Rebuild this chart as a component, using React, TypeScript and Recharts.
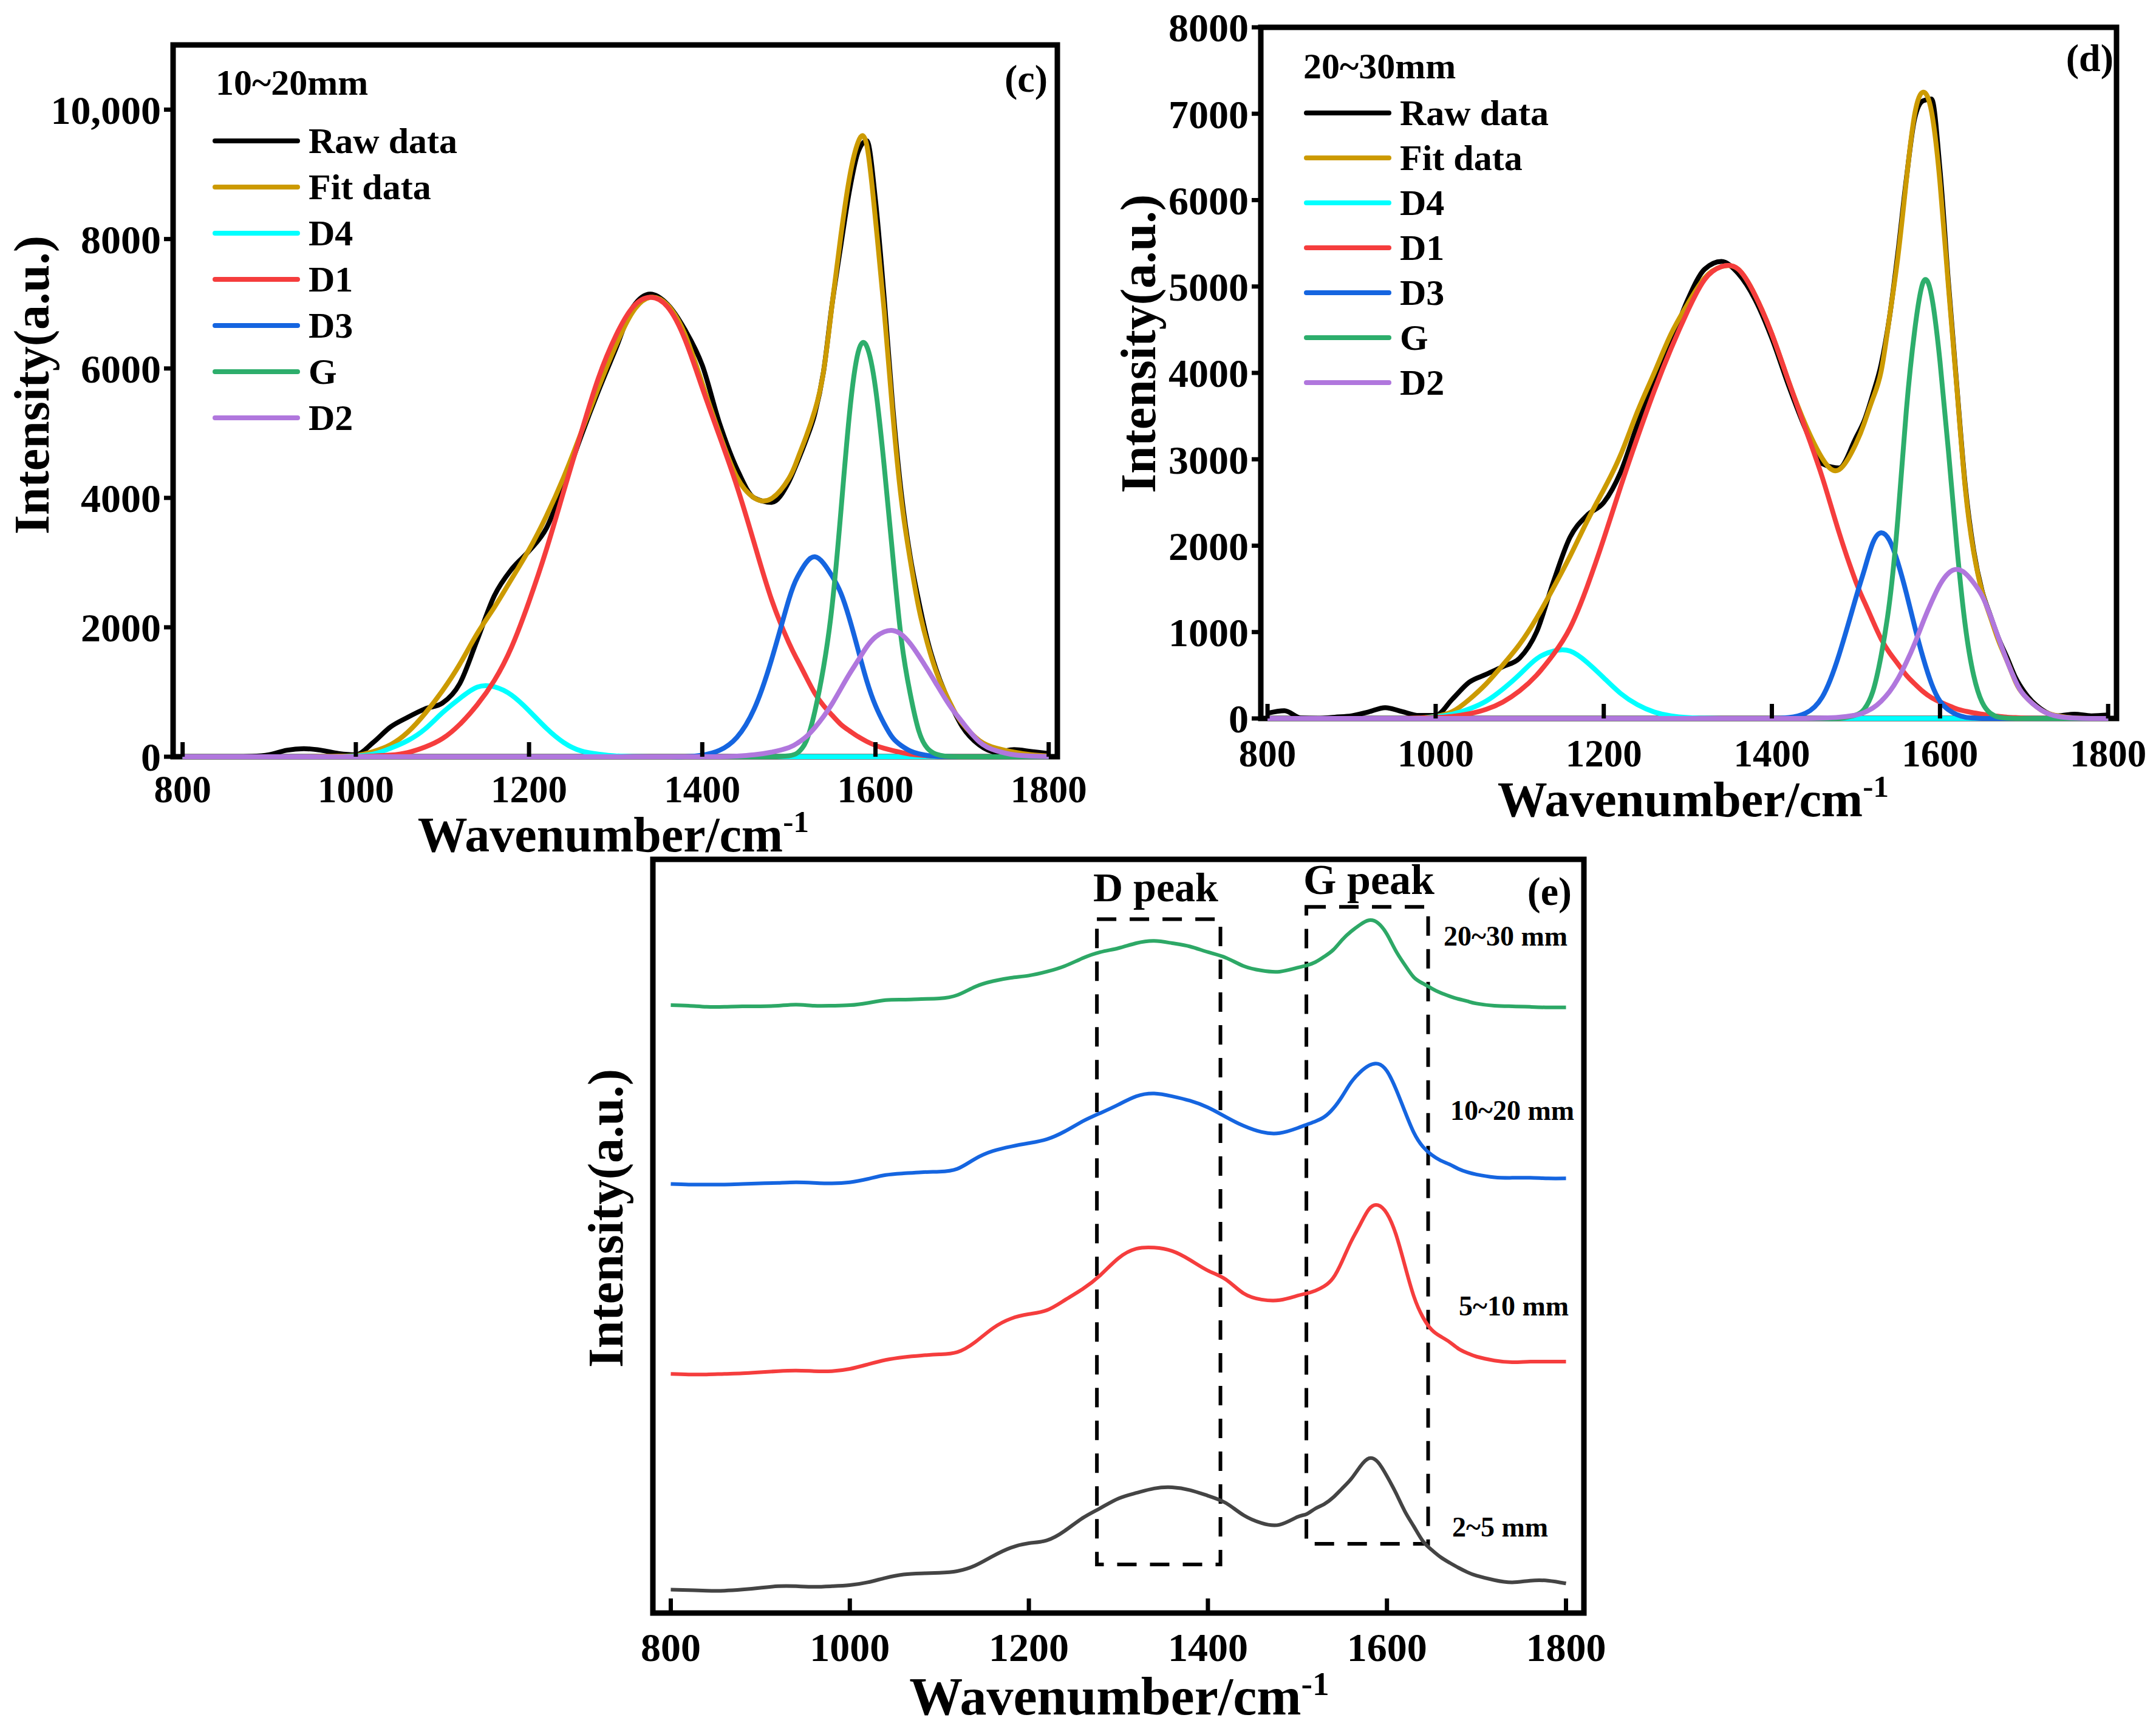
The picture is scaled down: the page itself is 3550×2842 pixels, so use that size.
import {
  LineChart,
  Line,
  XAxis,
  YAxis,
  Legend,
  ReferenceArea,
} from "recharts";

const SERIF = "'Liberation Serif'";

// wavenumber grid, cm-1 (finer around the G band)
const wavenumbers = [
  800, 820, 840, 860, 880, 900, 920, 940, 960, 980, 1000, 1020, 1040, 1060, 1080, 1100, 1120, 1140,
  1160, 1180, 1200, 1220, 1240, 1260, 1280, 1300, 1320, 1340, 1360, 1380, 1400, 1420, 1440, 1460,
  1480, 1500, 1510, 1520, 1530, 1540, 1550, 1560, 1570, 1580, 1590, 1600, 1610, 1620, 1630, 1640,
  1650, 1660, 1670, 1680, 1690, 1700, 1720, 1740, 1760, 1780, 1800,
];

const xTicks = [800, 1000, 1200, 1400, 1600, 1800];
const yTicksC = [0, 2000, 4000, 6000, 8000, 10000];
const yTicksD = [0, 1000, 2000, 3000, 4000, 5000, 6000, 7000, 8000];

// panel (c) 10~20mm
const rawC = [
  0, 0, 0, 0, 5, 30, 100, 125, 100, 50, 30, 220, 460, 610, 740, 830, 1130, 1800, 2490, 2900, 3180,
  3530, 4200, 4950, 5650, 6300, 6950, 7150, 6990, 6600, 6050, 5150, 4450, 4000, 3930, 4250, 4560,
  4900, 5300, 5950, 7000, 7900, 8750, 9350, 9520, 8600, 7100, 5400, 4050, 3100, 2400, 1800, 1350,
  1000, 720, 470, 180, 70, 110, 80, 50,
];
const fitC = [
  0, 0, 0, 0, 0, 0, 0, 0, 5, 10, 20, 80, 185, 380, 670, 1020, 1430, 1900, 2310, 2750, 3200, 3720,
  4320, 5000, 5700, 6350, 6880, 7100, 6980, 6530, 5770, 4990, 4320, 4000, 3990, 4300, 4600, 4950,
  5350, 5950, 7000, 8050, 8950, 9500, 9450, 8300, 6900, 5300, 3960, 3050, 2300, 1750, 1320, 1000,
  730, 520, 250, 130, 70, 30, 10,
];
const d4C = [
  0, 0, 0, 0, 0, 0, 0, 0, 0, 0, 10, 40, 130, 250, 430, 680, 900, 1075, 1080, 950, 710, 440, 220, 90,
  40, 12, 3, 0, 0, 0, 0, 0, 0, 0, 0, 0, 0, 0, 0, 0, 0, 0, 0, 0, 0, 0, 0, 0, 0, 0, 0, 0, 0, 0, 0, 0,
  0, 0, 0, 0, 0,
];
const d1C = [
  0, 0, 0, 0, 0, 0, 0, 0, 0, 0, 0, 10, 25, 65, 150, 280, 500, 800, 1180, 1700, 2400, 3200, 4100,
  5000, 5850, 6500, 6950, 7100, 6950, 6450, 5700, 4950, 4180, 3300, 2430, 1760, 1490, 1230, 980,
  790, 640, 500, 400, 310, 235, 175, 130, 95, 65, 40, 25, 15, 8, 3, 0, 0, 0, 0, 0, 0, 0,
];
const d3C = [
  0, 0, 0, 0, 0, 0, 0, 0, 0, 0, 0, 0, 0, 0, 0, 0, 0, 0, 0, 0, 0, 0, 0, 0, 0, 0, 0, 0, 0, 0, 25, 100,
  300, 740, 1500, 2430, 2780, 3000, 3090, 2990, 2790, 2530, 2130, 1650, 1170, 790, 510, 290, 170,
  90, 45, 20, 8, 3, 0, 0, 0, 0, 0, 0, 0,
];
const gC = [
  0, 0, 0, 0, 0, 0, 0, 0, 0, 0, 0, 0, 0, 0, 0, 0, 0, 0, 0, 0, 0, 0, 0, 0, 0, 0, 0, 0, 0, 0, 0, 0, 0,
  0, 0, 15, 60, 240, 700, 1380, 2340, 3780, 5300, 6250, 6340, 5700, 4500, 3100, 1800, 980, 400, 130,
  40, 10, 3, 0, 0, 0, 0, 0, 0,
];
const d2C = [
  0, 0, 0, 0, 0, 0, 0, 0, 0, 0, 0, 0, 0, 0, 0, 0, 0, 0, 0, 0, 0, 0, 0, 0, 0, 0, 0, 0, 0, 0, 0, 0, 10,
  30, 70, 140, 210, 310, 450, 620, 820, 1050, 1280, 1490, 1700, 1850, 1930, 1950, 1890, 1750, 1560,
  1350, 1130, 910, 710, 540, 230, 90, 30, 10, 3,
];

// panel (d) 20~30mm
const rawD = [
  60, 90, 5, 0, 15, 30, 75, 125, 80, 35, 35, 225, 420, 510, 600, 700, 1000, 1580, 2100, 2350, 2500,
  2850, 3400, 3900, 4350, 4850, 5200, 5290, 5150, 4850, 4400, 3850, 3350, 2950, 2900, 3250, 3450,
  3750, 4100, 4650, 5400, 6250, 6950, 7150, 7170, 6350, 5050, 3850, 2700, 1950, 1480, 1190, 920,
  700, 470, 310, 110, 30, 50, 30, 40,
];
const fitD = [
  0, 0, 0, 0, 0, 0, 0, 0, 0, 5, 25, 80, 220, 400, 620, 860, 1160, 1510, 1880, 2280, 2650, 3050, 3550,
  4000, 4450, 4800, 5100, 5230, 5200, 4900, 4450, 3900, 3400, 3010, 2880, 3180, 3420, 3700, 4020,
  4650, 5350, 6230, 7000, 7250, 7020, 6200, 5000, 3830, 2670, 1930, 1470, 1170, 890, 660, 420, 270,
  100, 30, 5, 0, 0,
];
const d4D = [
  0, 0, 0, 0, 0, 0, 0, 0, 0, 3, 20, 50, 110, 200, 340, 510, 690, 780, 780, 650, 470, 290, 160, 75,
  30, 10, 3, 0, 0, 0, 0, 0, 0, 0, 0, 0, 0, 0, 0, 0, 0, 0, 0, 0, 0, 0, 0, 0, 0, 0, 0, 0, 0, 0, 0, 0,
  0, 0, 0, 0, 0,
];
const d1D = [
  0, 0, 0, 0, 0, 0, 0, 0, 0, 5, 10, 25, 55, 105, 190, 320, 500, 740, 1050, 1520, 2080, 2680, 3250,
  3790, 4280, 4720, 5080, 5230, 5200, 4900, 4450, 3900, 3350, 2790, 2150, 1580, 1350, 1130, 920, 760,
  630, 500, 400, 310, 240, 190, 150, 110, 85, 65, 50, 35, 25, 15, 10, 5, 2, 0, 0, 0, 0,
];
const d3D = [
  0, 0, 0, 0, 0, 0, 0, 0, 0, 0, 0, 0, 0, 0, 0, 0, 0, 0, 0, 0, 0, 0, 0, 0, 0, 0, 0, 0, 0, 0, 0, 10, 60,
  250, 740, 1400, 1720, 2030, 2150, 2060, 1800, 1450, 1060, 700, 400, 200, 100, 45, 15, 5, 0, 0, 0,
  0, 0, 0, 0, 0, 0, 0, 0,
];
const gD = [
  0, 0, 0, 0, 0, 0, 0, 0, 0, 0, 0, 0, 0, 0, 0, 0, 0, 0, 0, 0, 0, 0, 0, 0, 0, 0, 0, 0, 0, 0, 0, 0, 0,
  0, 0, 40, 110, 310, 730, 1350, 2330, 3570, 4500, 5050, 4890, 4130, 3100, 2000, 1080, 500, 190, 60,
  15, 3, 0, 0, 0, 0, 0, 0, 0,
];
const d2D = [
  0, 0, 0, 0, 0, 0, 0, 0, 0, 0, 0, 0, 0, 0, 0, 0, 0, 0, 0, 0, 0, 0, 0, 0, 0, 0, 0, 0, 0, 0, 0, 0, 0,
  5, 15, 40, 70, 120, 200, 310, 460, 650, 870, 1120, 1350, 1550, 1680, 1725, 1680, 1570, 1420, 1190,
  920, 660, 430, 270, 100, 25, 5, 0, 0,
];

// panel (e) stacked spectra, arbitrary units
const green2030 = [
  1088, 1087, 1085, 1085, 1086, 1086, 1087, 1089, 1087, 1087, 1088, 1092, 1097, 1098, 1099, 1100,
  1106, 1121, 1131, 1137, 1141, 1148, 1158, 1172, 1183, 1190, 1199, 1203, 1199, 1193, 1183, 1173,
  1158, 1150, 1148, 1155, 1159, 1165, 1175, 1187, 1205, 1220, 1232, 1240, 1235, 1215, 1185, 1160,
  1138, 1127, 1118, 1110, 1104, 1099, 1095, 1091, 1087, 1086, 1085, 1084, 1084,
];
const blue1020 = [
  768, 767, 767, 767, 768, 769, 770, 771, 770, 769, 771, 777, 784, 787, 789, 790, 795, 813, 827, 835,
  841, 848, 862, 880, 895, 910, 925, 930, 925, 917, 905, 888, 872, 861, 859, 868, 874, 880, 888, 903,
  925, 950, 968, 980, 983, 970, 938, 898, 860, 835, 820, 810, 803, 795, 789, 785, 780, 779, 779, 778,
  778,
];
const red510 = [
  428, 427, 427, 428, 429, 431, 433, 434, 433, 433, 437, 445, 453, 458, 461, 463, 467, 485, 510, 527,
  535, 542, 560, 580, 605, 635, 652, 654, 648, 632, 613, 597, 572, 561, 560, 568, 572, 577, 585, 600,
  630, 665, 695, 723, 730, 715, 678, 622, 567, 530, 507, 495, 485, 473, 465, 459, 452, 449, 450, 450,
  450,
];
const dark25 = [
  42, 41, 40, 40, 42, 45, 48, 48, 47, 48, 50, 55, 63, 69, 71, 72, 75, 85, 102, 117, 125, 130, 147,
  170, 188, 205, 215, 223, 225, 220, 210, 197, 175, 161, 158, 172, 177, 187, 195, 207, 223, 240, 262,
  277, 270, 245, 215, 182, 155, 129, 113, 100, 90, 81, 73, 67, 59, 55, 58, 58, 53,
];

const tableC = wavenumbers.map((x, i) => ({
  x,
  raw: rawC[i],
  fit: fitC[i],
  d4: d4C[i],
  d1: d1C[i],
  d3: d3C[i],
  g: gC[i],
  d2: d2C[i],
}));
const tableD = wavenumbers.map((x, i) => ({
  x,
  raw: rawD[i],
  fit: fitD[i],
  d4: d4D[i],
  d1: d1D[i],
  d3: d3D[i],
  g: gD[i],
  d2: d2D[i],
}));
const tableE = wavenumbers.map((x, i) => ({
  x,
  a: green2030[i],
  b: blue1020[i],
  c: red510[i],
  d: dark25[i],
}));

const fitSeries = [
  { key: "raw", name: "Raw data", color: "#000000", curve: "monotone" },
  { key: "fit", name: "Fit data", color: "#CC9A00", curve: "natural" },
  { key: "d4", name: "D4", color: "#00FFFF", curve: "natural" },
  { key: "d1", name: "D1", color: "#F53D3D", curve: "natural" },
  { key: "d3", name: "D3", color: "#1565E0", curve: "natural" },
  { key: "g", name: "G", color: "#2DAE6C", curve: "natural" },
  { key: "d2", name: "D2", color: "#B077DD", curve: "natural" },
];

const tickFont = { fontFamily: SERIF, fontWeight: 700, fill: "#000" };
const bold = { fontFamily: SERIF, fontWeight: 700, fill: "#000" };

const fmtY = (v: number) => (v === 10000 ? "10,000" : String(v));

const FitLegend = ({ payload, rowH }: any) => (
  <div>
    {(payload ?? []).map((p: any) => (
      <div key={p.value} style={{ display: "flex", alignItems: "center", height: rowH }}>
        <div style={{ width: 144, height: 8, background: p.color, borderRadius: 4, marginRight: 14 }} />
        <span style={{ ...bold, color: "#000", fontSize: 60, lineHeight: 1 }}>{p.value}</span>
      </div>
    ))}
  </div>
);

const AxisTitle = ({ x, y, size = 82 }: { x: number; y: number; size?: number }) => (
  <text x={x} y={y} textAnchor="middle" fontSize={size} {...bold}>
    Wavenumber/cm
    <tspan fontSize={size * 0.63} dy={-32}>
      -1
    </tspan>
  </text>
);

const YTitle = ({ x, y }: { x: number; y: number }) => (
  <text x={x} y={y} textAnchor="middle" fontSize={82} transform={`rotate(-90 ${x} ${y})`} {...bold}>
    Intensity(a.u.)
  </text>
);

const FitPanel = ({ data, xDomain, yMax, yTicks, box, margin, label, tag, legendPos, rowH, title, ytitle, labelPos, tagPos, xLabelGap }: any) => (
  <div style={{ position: "absolute", ...box }}>
    <LineChart width={box.width} height={box.height} data={data} margin={margin}>
      <XAxis
        dataKey="x"
        type="number"
        domain={xDomain}
        ticks={xTicks}
        interval={0}
        height={100}
        axisLine={false}
        tickSize={-24}
        tickMargin={xLabelGap}
        tickLine={{ stroke: "#000", strokeWidth: 7 }}
        tick={{ ...tickFont, fontSize: 63 }}
      />
      <YAxis
        type="number"
        domain={[0, yMax]}
        ticks={yTicks}
        interval={0}
        width={100}
        axisLine={false}
        tickSize={15}
        tickMargin={5}
        tickLine={{ stroke: "#000", strokeWidth: 7 }}
        tickFormatter={fmtY}
        tick={{ ...tickFont, fontSize: 66 }}
      />
      {fitSeries.map((s) => (
        <Line
          key={s.key}
          dataKey={s.key}
          name={s.name}
          stroke={s.color}
          strokeWidth={8}
          type={s.curve as any}
          dot={false}
          isAnimationActive={false}
        />
      ))}
      <ReferenceArea x1={xDomain[0]} x2={xDomain[1]} y1={0} y2={yMax} fill="none" stroke="#000" strokeWidth={9} />
      <Legend
        layout="vertical"
        align="center"
        verticalAlign="middle"
        itemSorter={null}
        wrapperStyle={{ position: "absolute", width: "auto", height: "auto", margin: 0, ...legendPos }}
        content={(p: any) => <FitLegend payload={p.payload} rowH={rowH} />}
      />
      <text x={labelPos[0]} y={labelPos[1]} fontSize={60} {...bold}>
        {label}
      </text>
      <text x={tagPos[0]} y={tagPos[1]} fontSize={64} textAnchor="end" {...bold}>
        {tag}
      </text>
      <AxisTitle x={title[0]} y={title[1]} />
      <YTitle x={ytitle[0]} y={ytitle[1]} />
    </LineChart>
  </div>
);

const stackedSeries = [
  { key: "a", name: "20~30 mm", color: "#2DA866" },
  { key: "b", name: "10~20 mm", color: "#1565E0" },
  { key: "c", name: "5~10 mm", color: "#F53D3D" },
  { key: "d", name: "2~5 mm", color: "#444444" },
];

const dashed = { fill: "none", stroke: "#000", strokeWidth: 6, strokeDasharray: "32 22" };

const StackedPanel = () => (
  <div style={{ position: "absolute", left: 900, top: 1400, width: 1750, height: 1442 }}>
    <LineChart width={1750} height={1442} data={tableE} margin={{ left: 175, right: 42, top: 15, bottom: 86 }}>
      <XAxis
        dataKey="x"
        type="number"
        domain={[780, 1820]}
        ticks={xTicks}
        interval={0}
        height={100}
        axisLine={false}
        tickSize={-24}
        tickMargin={56}
        tickLine={{ stroke: "#000", strokeWidth: 7 }}
        tick={{ ...tickFont, fontSize: 66 }}
      />
      <YAxis hide type="number" domain={[0, 1349]} />
      {stackedSeries.map((s) => (
        <Line
          key={s.key}
          dataKey={s.key}
          name={s.name}
          stroke={s.color}
          strokeWidth={6}
          type="natural"
          dot={false}
          isAnimationActive={false}
        />
      ))}
      <ReferenceArea x1={1276} x2={1414} y1={87} y2={1242} {...dashed} />
      <ReferenceArea x1={1510} x2={1646} y1={124} y2={1264} {...dashed} />
      <ReferenceArea x1={780} x2={1820} y1={0} y2={1349} fill="none" stroke="#000" strokeWidth={9} />
      <text x={900} y={84} fontSize={68} {...bold}>D peak</text>
      <text x={1246} y={72} fontSize={70} {...bold}>G peak</text>
      <text x={1688} y={90} fontSize={66} textAnchor="end" {...bold}>(e)</text>
      <text x={1477} y={157} fontSize={46} {...bold}>20~30 mm</text>
      <text x={1488} y={444} fontSize={46} {...bold}>10~20 mm</text>
      <text x={1502} y={766} fontSize={46} {...bold}>5~10 mm</text>
      <text x={1491} y={1130} fontSize={46} {...bold}>2~5 mm</text>
      <AxisTitle x={943} y={1423} size={88} />
      <YTitle x={125} y={606} />
    </LineChart>
  </div>
);

export default function App() {
  return (
    <div style={{ position: "absolute", left: 0, top: 0, width: 3550, height: 2842, background: "#fff", overflow: "hidden" }}>
      <FitPanel
        data={tableC}
        xDomain={[789, 1810]}
        yMax={11000}
        yTicks={yTicksC}
        box={{ left: 0, top: 0, width: 1800, height: 1420 }}
        margin={{ left: 185, right: 59, top: 74, bottom: 74 }}
        label="10~20mm"
        tag="(c)"
        legendPos={{ left: 350, top: 194 }}
        rowH={76}
        title={[1010, 1402]}
        ytitle={[80, 634]}
        labelPos={[355, 156]}
        tagPos={[1725, 151]}
        xLabelGap={54}
      />
      <FitPanel
        data={tableD}
        xDomain={[792, 1810]}
        yMax={8000}
        yTicks={yTicksD}
        box={{ left: 1800, top: 0, width: 1750, height: 1400 }}
        margin={{ left: 176, right: 65, top: 45, bottom: 117 }}
        label="20~30mm"
        tag="(d)"
        legendPos={{ left: 347, top: 149 }}
        rowH={74}
        title={[988, 1344]}
        ytitle={[102, 566]}
        labelPos={[346, 129]}
        tagPos={[1680, 117]}
        xLabelGap={58}
      />
      <StackedPanel />
    </div>
  );
}
